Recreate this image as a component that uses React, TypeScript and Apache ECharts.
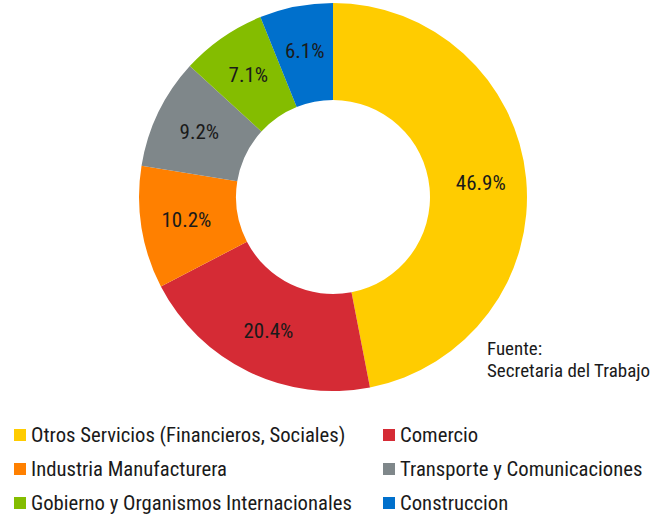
import React, { useEffect, useRef } from "react";
import * as echarts from "echarts";

const categories = [
  "Otros Servicios (Financieros, Sociales)",
  "Comercio",
  "Industria Manufacturera",
  "Transporte y Comunicaciones",
  "Gobierno y Organismos Internacionales",
  "Construccion",
];
const values = [46.9, 20.4, 10.2, 9.2, 7.1, 6.1];
const colors = ["#FFCC00", "#D52B35", "#FF8000", "#7F878A", "#84BD00", "#0070CC"];
const leftLegend = [categories[0], categories[2], categories[4]];
const rightLegend = [categories[1], categories[3], categories[5]];
const sourceLines = ["Fuente:", "Secretaria del Trabajo"];

const FONT = "'Roboto Condensed', 'Liberation Sans Narrow', 'DejaVu Sans Condensed', Roboto, sans-serif";

export default function App() {
  const ref = useRef<HTMLDivElement>(null);
  useEffect(() => {
    if (!ref.current) return;
    const chart = echarts.init(ref.current, null, { renderer: "svg" });
    const legendCommon = {
      orient: "vertical" as const,
      top: 424,
      padding: 0,
      icon: "rect",
      itemWidth: 12,
      itemHeight: 12,
      itemGap: 12,
      selectedMode: false,
      textStyle: { fontFamily: FONT, fontSize: 20.7, color: "#1a1a1a", lineHeight: 22 },
    };
    chart.setOption({
      animation: false,
      color: colors,
      textStyle: { fontFamily: FONT },
      legend: [
        { ...legendCommon, left: 14, data: leftLegend },
        { ...legendCommon, left: 383, data: rightLegend },
      ],
      graphic: [
        {
          type: "text",
          left: 487,
          top: 337,
          style: {
            text: sourceLines.join("\n"),
            fontFamily: FONT,
            fontSize: 19,
            lineHeight: 22,
            fill: "#1a1a1a",
          },
        },
      ],
      series: [
        {
          type: "pie",
          center: [333, 197],
          radius: [97, 194],
          startAngle: 90,
          clockwise: true,
          avoidLabelOverlap: false,
          label: {
            show: true,
            position: "inside",
            formatter: (p: any) => p.value.toFixed(1) + "%",
            fontFamily: FONT,
            fontSize: 21,
            color: "#1a1a1a",
          },
          labelLine: { show: false },
          itemStyle: { borderWidth: 0 },
          emphasis: { disabled: true },
          data: categories.map((name, i) => ({ name, value: values[i] })),
        },
      ],
    });
    return () => chart.dispose();
  }, []);
  return (
    <div
      ref={ref}
      style={{ position: "fixed", left: 0, top: 0, width: 662, height: 516, background: "#fff" }}
    />
  );
}
